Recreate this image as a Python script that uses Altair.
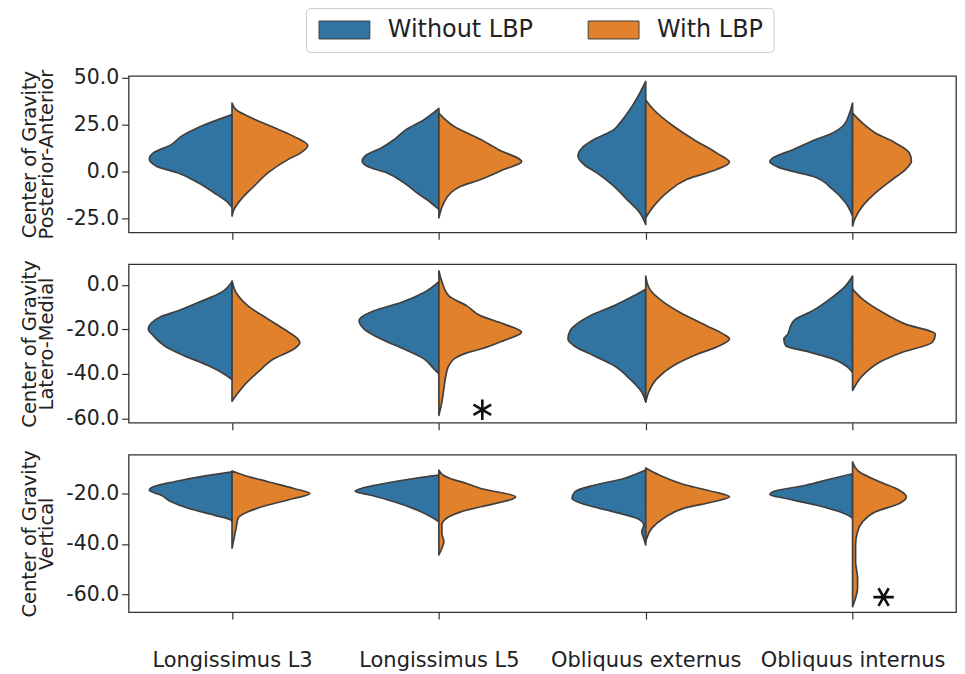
import altair as alt
import pandas as pd

MUSCLES = ["Longissimus L3", "Longissimus L5", "Obliquus externus", "Obliquus internus"]
GROUPS = ["Without LBP", "With LBP"]
COLORS = ["#3274a1", "#e1812c"]

PANEL_TITLES = [
    ["Center of Gravity", "Posterior-Anterior"],
    ["Center of Gravity", "Latero-Medial"],
    ["Center of Gravity", "Vertical"],
]
PANEL_TICKS = [[-25, 0, 25, 50], [-60, -40, -20, 0], [-60, -40, -20]]
PANEL_DOMAINS = [[-32.6, 50.9], [-61.9, 9.3], [-67.2, -4.4]]

# Violin half profiles: (value, density)
# ---- Posterior-Anterior ----
PA_L3_WITHOUT = [(30.2, 0), (24, 31), (18.6, 51), (14.2, 61), (9.8, 79), (6.6, 83), (2.7, 76),
                 (-0.9, 54), (-6.2, 34), (-11.5, 18), (-16.8, 4), (-19.3, 0)]
PA_L3_WITH = [(36.4, 0), (32.8, 4), (29.3, 16), (24, 39), (18.6, 62), (13.7, 76), (9.8, 69),
              (6.2, 56), (-0.9, 36), (-8, 22), (-15, 9), (-20.4, 2), (-23.9, 0)]
PA_L5_WITHOUT = [(33.5, 0), (27.5, 15), (22.2, 33), (16.9, 45), (12.4, 58), (8.9, 72), (5.3, 77),
                 (2.7, 72), (-0.9, 52), (-6.2, 35), (-11.5, 22), (-16.8, 8), (-20.4, 0)]
PA_L5_WITH = [(31, 0), (24, 15), (16.9, 42), (11.5, 60), (5, 83), (0.9, 65), (-4.4, 42),
              (-8, 22), (-11.5, 12), (-16.8, 5), (-24.8, 0)]
PA_OE_WITHOUT = [(47.9, 0), (41.7, 6), (32.8, 16), (25.7, 26), (22.2, 32), (16.9, 52), (12.4, 64),
                 (8, 68), (3.6, 62), (-0.9, 49), (-8, 32), (-15, 19), (-22.1, 6), (-28.4, 0)]
PA_OE_WITH = [(38, 0), (32.8, 8), (24, 28), (16.9, 48), (9.8, 71), (4.8, 84), (0.9, 71),
              (-4.4, 41), (-11.5, 21), (-18.6, 8), (-24.8, 0)]
PA_OI_WITHOUT = [(36.4, 0), (31, 3), (24, 10), (20.4, 20), (16.9, 37), (11.5, 60), (7.1, 80),
                 (5, 83), (1.8, 73), (-2.7, 40), (-9.7, 20), (-16.8, 7), (-23.9, 0)]
PA_OI_WITH = [(31, 0), (25.7, 10), (20.4, 23), (15.1, 43), (9.8, 57), (5.3, 59), (0.9, 53),
              (-4.4, 40), (-11.5, 23), (-18.6, 10), (-25.7, 2), (-29.2, 0)]

# ---- Latero-Medial ----
LM_L3_WITHOUT = [(1.5, 0), (-3.4, 11), (-7.9, 34), (-11.6, 54), (-14.6, 73), (-17.1, 81), (-19.8, 84),
                 (-22.8, 79), (-27.3, 68), (-31.8, 48), (-36.2, 24), (-40, 8), (-42.5, 0)]
LM_L3_WITH = [(1.8, 0), (-3.4, 4), (-9.4, 16), (-15.3, 36), (-19.8, 52), (-24.3, 66), (-25.8, 68),
              (-28.8, 62), (-33.2, 42), (-39.2, 26), (-45.2, 12), (-49.7, 4), (-52.3, 0)]
LM_L5_WITHOUT = [(1.5, 0), (-3.4, 15), (-7.9, 38), (-11.6, 65), (-14.6, 78), (-16.1, 80), (-19.8, 75),
                 (-24.3, 58), (-28.8, 35), (-33.2, 15), (-37.7, 5), (-40, 0)]
LM_L5_WITH = [(6.3, 0), (1.5, 3), (-4.9, 10), (-9.4, 28), (-13.9, 42), (-17.5, 65), (-21.3, 83),
              (-25, 65), (-28.8, 42), (-30.5, 28), (-33, 16), (-36.2, 10), (-40.7, 7), (-46.7, 5),
              (-52.6, 3), (-58.6, 0)]
LM_OE_WITHOUT = [(-1.9, 0), (-4.9, 12), (-9.4, 32), (-13.9, 56), (-16.8, 67), (-20.6, 76), (-24.3, 78),
                 (-27.3, 72), (-31.8, 52), (-36.2, 32), (-42.2, 16), (-48.1, 4), (-52.6, 0)]
LM_OE_WITH = [(4, 0), (-1.9, 4), (-6.4, 14), (-12.3, 34), (-18.3, 61), (-22.1, 78), (-24.3, 84),
              (-27.3, 74), (-31.8, 48), (-36.2, 28), (-42.2, 11), (-48.1, 3), (-52.6, 0)]
LM_OI_WITHOUT = [(4, 0), (-0.4, 7), (-6.4, 23), (-12.3, 43), (-15.3, 57), (-18.3, 62), (-22.1, 65),
                 (-24.3, 69), (-27.3, 67), (-30.2, 43), (-33.2, 20), (-37.7, 3), (-39.5, 0)]
LM_OI_WITH = [(-1.9, 0), (-6.4, 10), (-12.3, 30), (-17.6, 53), (-22.1, 83), (-25.8, 80), (-30.2, 50),
              (-34.7, 27), (-40.7, 10), (-47.4, 0)]

# ---- Vertical ----
VT_L3_WITHOUT = [(-11.3, 0), (-13.2, 31), (-15.2, 58), (-17.2, 79), (-18.6, 83), (-20.6, 71),
                 (-23.2, 61), (-25.8, 44), (-28.5, 18), (-30.5, 1), (-31.2, 0)]
VT_L3_WITH = [(-10.9, 0), (-12.6, 12), (-15.2, 36), (-17.9, 62), (-19.9, 78), (-21.9, 62), (-24.5, 36),
              (-27.2, 16), (-29.8, 6), (-33.8, 4), (-37.8, 2), (-41.7, 0)]
VT_L5_WITHOUT = [(-12.6, 0), (-13.9, 25), (-15.9, 55), (-17.9, 78), (-19, 84), (-20.6, 68),
                 (-23.2, 45), (-26.5, 22), (-29.2, 8), (-31.2, 0)]
VT_L5_WITH = [(-10.6, 0), (-12.5, 4), (-14, 12), (-15.9, 28), (-17.9, 42), (-21.2, 77), (-25.2, 42),
              (-27.2, 22), (-29.2, 10), (-32.5, 3), (-35.8, 3), (-39.1, 5), (-41.7, 3), (-44.4, 0)]
VT_OE_WITHOUT = [(-10.5, 0), (-12, 9), (-13.9, 22), (-16.6, 52), (-19.2, 71), (-21.9, 74), (-24.5, 59),
                 (-27.2, 32), (-29.8, 9), (-32.5, 2), (-35.1, 4), (-37.8, 2), (-40.4, 0)]
VT_OE_WITH = [(-9.7, 0), (-12.6, 14), (-16.6, 41), (-19.2, 68), (-21.2, 84), (-23.2, 68), (-25.8, 38),
              (-29.8, 18), (-33.8, 6), (-37.8, 1), (-39.1, 0)]
VT_OI_WITHOUT = [(-12, 0), (-13.9, 20), (-16.6, 47), (-19.2, 80), (-20.3, 83), (-21.9, 67),
                 (-24.5, 37), (-27.2, 13), (-29.2, 2), (-29.8, 0)]
VT_OI_WITH = [(-7.3, 0), (-11.3, 7), (-15.2, 27), (-18.6, 47), (-21.2, 54), (-23.9, 47), (-27.2, 23),
              (-31.2, 10), (-35.1, 5), (-40.4, 3), (-47, 3), (-53.7, 5), (-57.7, 5), (-61.6, 3), (-65, 0)]

PANEL_PROFILES = [
    [(PA_L3_WITHOUT, PA_L3_WITH), (PA_L5_WITHOUT, PA_L5_WITH), (PA_OE_WITHOUT, PA_OE_WITH), (PA_OI_WITHOUT, PA_OI_WITH)],
    [(LM_L3_WITHOUT, LM_L3_WITH), (LM_L5_WITHOUT, LM_L5_WITH), (LM_OE_WITHOUT, LM_OE_WITH), (LM_OI_WITHOUT, LM_OI_WITH)],
    [(VT_L3_WITHOUT, VT_L3_WITH), (VT_L5_WITHOUT, VT_L5_WITH), (VT_OE_WITHOUT, VT_OE_WITH), (VT_OI_WITHOUT, VT_OI_WITH)],
]

# significance markers (muscle position, value) per panel
STAR_PANEL = [1, 2]
STAR_X = [1.21, 3.15]
STAR_Y = [-56.1, -61.2]
STAR_SHAPES = [
    "M0,-1L0,1M-0.866,-0.5L0.866,0.5M-0.866,0.5L0.866,-0.5",
    "M-1,0L1,0M-0.5,-0.866L0.5,0.866M-0.5,0.866L0.5,-0.866",
]

DENSITY_SCALE = 0.4 / 83.0
OUTLINE = "#3f3f3f"
FONT = "DejaVu Sans"
RECT_PATH = "M-1,-1L4.667,-1L4.667,1L-1,1Z"
PANEL_HEIGHTS = [157, 159, 158]

label_expr = "[" + ",".join("'%s'" % m for m in MUSCLES) + "][datum.value]"
ylabel_expr = "replace(format(datum.value, '.1f'), '\u2212', '-')"

legend = alt.Legend(
    orient="none", legendX=178, legendY=-68, direction="horizontal", title=None,
    labelFontSize=24, labelColor="#222222", labelFont=FONT, labelLimit=0,
    symbolType=RECT_PATH, symbolSize=324, symbolStrokeColor=OUTLINE, symbolStrokeWidth=1,
    symbolOpacity=1, labelOffset=48, columnPadding=52, padding=10,
    fillColor="white", strokeColor="#cccccc", cornerRadius=4,
)

panels = []
for p in range(3):
    rows = []
    for ci, (wo, wi) in enumerate(PANEL_PROFILES[p]):
        for g, prof in zip(GROUPS, (wo, wi)):
            for v, d in sorted(prof):
                rows.append({"ci": ci, "grp": g, "key": f"{ci}-{g}", "value": v, "density": d})
    df = pd.DataFrame(rows)

    xscale = alt.Scale(domain=[-0.5, 3.5], nice=False, zero=False)
    yscale = alt.Scale(domain=PANEL_DOMAINS[p], nice=False, zero=False)
    last = p == 2
    xaxis = alt.Axis(
        values=[0, 1, 2, 3], grid=False, domain=False, tickSize=7, tickColor="#333333", tickWidth=1.2,
        labels=last, labelExpr=label_expr, labelFontSize=21, labelColor="#222222", labelPadding=31,
        labelFont=FONT, labelLimit=0, title=None,
    )
    yaxis = alt.Axis(
        values=PANEL_TICKS[p], grid=False, domain=False, tickSize=7, tickColor="#333333", tickWidth=1.2,
        labelExpr=ylabel_expr, labelFontSize=20.5, labelColor="#222222", labelPadding=3, labelFont=FONT,
        title=PANEL_TITLES[p], titleFontSize=19.5, titleFontWeight="normal", titleColor="#222222",
        titleFont=FONT, titlePadding=9, titleLineHeight=17.5,
    )

    violins = alt.Chart(df).transform_calculate(
        xe=f"datum.ci + (datum.grp == 'With LBP' ? 1 : -1) * datum.density * {DENSITY_SCALE}"
    ).mark_area(
        orient="horizontal", interpolate="monotone", stroke=OUTLINE, strokeWidth=1.7,
        strokeJoin="round",
    ).encode(
        y=alt.Y("value:Q", scale=yscale, axis=yaxis),
        x=alt.X("xe:Q", scale=xscale, axis=xaxis),
        x2=alt.X2("ci:Q"),
        color=alt.Color("grp:N", scale=alt.Scale(domain=GROUPS, range=COLORS), legend=legend),
        detail="key:N",
    )
    layers = [violins]
    for sp, sx, sy, shp in zip(STAR_PANEL, STAR_X, STAR_Y, STAR_SHAPES):
        if sp == p:
            sdf = pd.DataFrame({"sx": [sx], "sy": [sy]})
            layers.append(
                alt.Chart(sdf).mark_point(
                    shape=shp, filled=False, stroke="#111111", strokeWidth=2.6, size=420, opacity=1
                ).encode(
                    x=alt.X("sx:Q", scale=xscale),
                    y=alt.Y("sy:Q", scale=yscale),
                )
            )
    panels.append(alt.layer(*layers).properties(width=830, height=PANEL_HEIGHTS[p]))

chart = alt.vconcat(*panels, spacing=32, bounds="flush").properties(
    padding={"left": 10, "top": -2, "right": 0, "bottom": 0}
).configure(
    font=FONT
).configure_view(
    stroke="#333333", strokeWidth=1.3
)

chart.save("out.html", embed_options={"renderer": "svg", "actions": False})
